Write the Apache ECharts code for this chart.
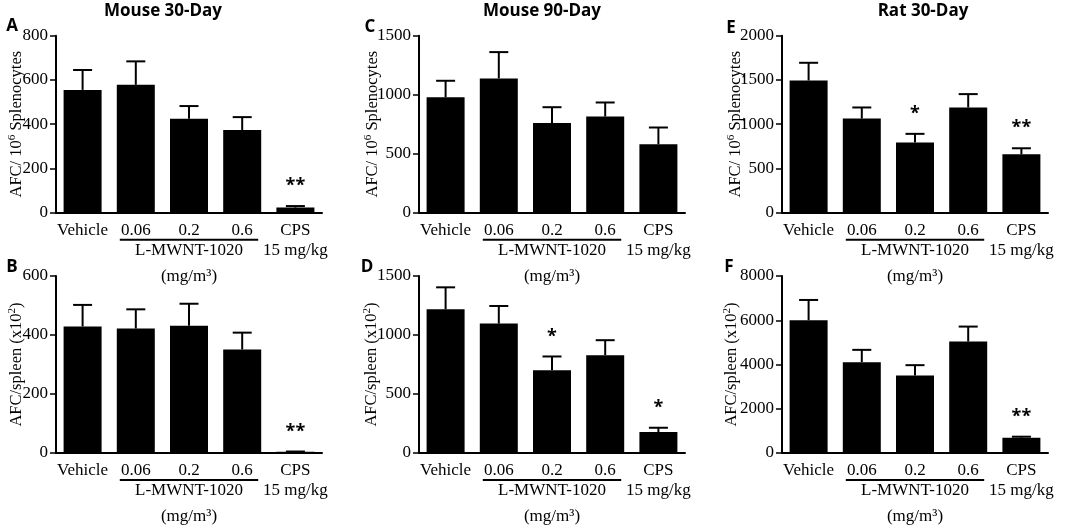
<!DOCTYPE html>
<html>
<head>
<meta charset="utf-8">
<script src="https://cdn.jsdelivr.net/npm/echarts@6/dist/echarts.min.js"></script>
<style>
html,body{margin:0;padding:0;background:#fff;}
#c{width:1065px;height:529px;}
</style>
</head>
<body>
<div id="c"></div>
<script>
// ---- data ----
const categories = ['Vehicle', '0.06', '0.2', '0.6', 'CPS\n15 mg/kg'];
const groupLabel = 'L-MWNT-1020';
const unitLabel = '(mg/m³)';
const panelTitles = ['Mouse 30-Day', 'Mouse 90-Day', 'Rat 30-Day'];
const panelLetters = ['A', 'B', 'C', 'D', 'E', 'F'];

const meanA = [555, 578, 425, 374, 23];
const semA  = [90, 106, 57, 58, 7];
const sigA  = ['', '', '', '', '**'];

const meanB = [429, 422, 431, 351, 4];
const semB  = [73, 65, 75, 57, 1];
const sigB  = ['', '', '', '', '**'];

const meanC = [979, 1138, 761, 815, 580];
const semC  = [139, 223, 133, 119, 142];
const sigC  = ['', '', '', '', ''];

const meanD = [1218, 1097, 702, 829, 178];
const semD  = [186, 149, 116, 127, 36];
const sigD  = ['', '', '*', '', '*'];

const meanE = [1494, 1064, 792, 1189, 660];
const semE  = [200, 125, 99, 151, 68];
const sigE  = ['', '', '*', '', '**'];

const meanF = [6000, 4105, 3504, 5038, 692];
const semF  = [917, 557, 466, 676, 45];
const sigF  = ['', '', '', '', '**'];

const yTopName = 'AFC/ 10|6| Splenocytes';
const yBotName = 'AFC/spleen (x10|2|)';

// ---- layout ----
const SERIF = '"Liberation Serif", "Times New Roman", serif';
const SANS = '"Open Sans", "Noto Sans", sans-serif';
const panels = [
  {mean: meanA, sem: semA, sig: sigA, max: 800,  step: 200,  left: 56,  top: 35.7, name: yTopName, gap: 29},
  {mean: meanB, sem: semB, sig: sigB, max: 600,  step: 200,  left: 56,  top: 276,  name: yBotName, gap: 29},
  {mean: meanC, sem: semC, sig: sigC, max: 1500, step: 500,  left: 419, top: 35.7, name: yTopName, gap: 36},
  {mean: meanD, sem: semD, sig: sigD, max: 1500, step: 500,  left: 419, top: 276,  name: yBotName, gap: 37},
  {mean: meanE, sem: semE, sig: sigE, max: 2000, step: 500,  left: 782, top: 35.7, name: yTopName, gap: 36},
  {mean: meanF, sem: semF, sig: sigF, max: 8000, step: 2000, left: 782, top: 276,  name: yBotName, gap: 40}
];

function richName(s) {
  const p = s.split('|');
  return '{a|' + p[0] + '}{s|' + p[1] + '}{a|' + p[2] + '}';
}

const grid = [], xAxis = [], yAxis = [], series = [];
panels.forEach((p, i) => {
  grid.push({left: p.left, top: p.top, width: 266, height: 177, containLabel: false});
  xAxis.push({
    type: 'category', gridIndex: i, data: categories, boundaryGap: true,
    axisLine: {lineStyle: {color: '#000', width: 2}},
    axisTick: {alignWithLabel: true, length: 5, lineStyle: {color: '#000', width: 1.5}},
    axisLabel: {color: '#000', fontFamily: SERIF, fontSize: 17, margin: 8, lineHeight: 20, interval: 0}
  });
  yAxis.push({
    type: 'value', gridIndex: i, min: 0, max: p.max, interval: p.step,
    splitLine: {show: false},
    axisLine: {show: true, lineStyle: {color: '#000', width: 2}},
    axisTick: {show: true, length: 6, lineStyle: {color: '#000', width: 1.5}},
    axisLabel: {color: '#000', fontFamily: SERIF, fontSize: 17, margin: 8, formatter: v => String(v)},
    name: richName(p.name), nameLocation: 'middle', nameGap: p.gap, nameMoveOverlap: false,
    nameTextStyle: {
      color: '#000',
      rich: {
        a: {fontFamily: SERIF, fontSize: 16.5, color: '#000', lineHeight: 20},
        s: {fontFamily: SERIF, fontSize: 11, color: '#000', verticalAlign: 'top', lineHeight: 20}
      }
    }
  });
  series.push({
    type: 'bar', xAxisIndex: i, yAxisIndex: i, data: p.mean, barWidth: 38,
    itemStyle: {color: '#000'}, silent: true, animation: false
  });
  series.push({
    type: 'custom', xAxisIndex: i, yAxisIndex: i, animation: false, silent: true, z: 5,
    data: p.mean.map((m, k) => [k, m, m + p.sem[k]]),
    renderItem: function (params, api) {
      const k = api.value(0);
      const base = api.coord([k, api.value(1)]);
      const top = api.coord([k, api.value(2)]);
      const cap = 9.5;
      const children = [
        {type: 'line', shape: {x1: base[0], y1: base[1], x2: top[0], y2: top[1]}, style: {stroke: '#000', lineWidth: 2}},
        {type: 'line', shape: {x1: top[0] - cap, y1: top[1], x2: top[0] + cap, y2: top[1]}, style: {stroke: '#000', lineWidth: 2}}
      ];
      const s = p.sig[k];
      if (s) {
        children.push({type: 'text', x: top[0], y: top[1] - 20,
          style: {text: s, fill: '#000', font: 'bold 18px ' + SANS, align: 'center', verticalAlign: 'middle'}});
      }
      return {type: 'group', children: children};
    }
  });
});

const chart = echarts.init(document.getElementById('c'), null, {renderer: 'canvas'});
chart.setOption({animation: false, backgroundColor: '#fff', grid, xAxis, yAxis, series});

// annotations computed from axis scales
const graphic = [];
const titlePos = [[163, 11], [542, 11], [923, 11]];
panelTitles.forEach((t, j) => {
  graphic.push({type: 'text', x: titlePos[j][0], y: titlePos[j][1],
    style: {text: t, font: 'bold 17px ' + SANS, fill: '#000', align: 'center', verticalAlign: 'middle'}});
});
const letterPos = [[12, 26], [12, 267], [370, 27], [367, 267], [731, 28], [729, 267]];
panelLetters.forEach((t, j) => {
  graphic.push({type: 'text', x: letterPos[j][0], y: letterPos[j][1],
    style: {text: t, font: 'bold 17px ' + SANS, fill: '#000', align: 'center', verticalAlign: 'middle'}});
});
panels.forEach((p, i) => {
  const a = chart.convertToPixel({gridIndex: i}, [1, 0]);
  const b = chart.convertToPixel({gridIndex: i}, [3, 0]);
  const c = chart.convertToPixel({gridIndex: i}, [2, 0]);
  const y0 = a[1];
  graphic.push({type: 'line', shape: {x1: a[0] - 16, y1: y0 + 27, x2: b[0] + 16, y2: y0 + 27},
    style: {stroke: '#000', lineWidth: 2}});
  graphic.push({type: 'text', x: c[0], y: y0 + 38,
    style: {text: groupLabel, font: '17px ' + SERIF, fill: '#000', align: 'center', verticalAlign: 'middle'}});
  graphic.push({type: 'text', x: c[0], y: y0 + 64,
    style: {text: unitLabel, font: '17px ' + SERIF, fill: '#000', align: 'center', verticalAlign: 'middle'}});
});
chart.setOption({graphic: graphic});
</script>
</body>
</html>
